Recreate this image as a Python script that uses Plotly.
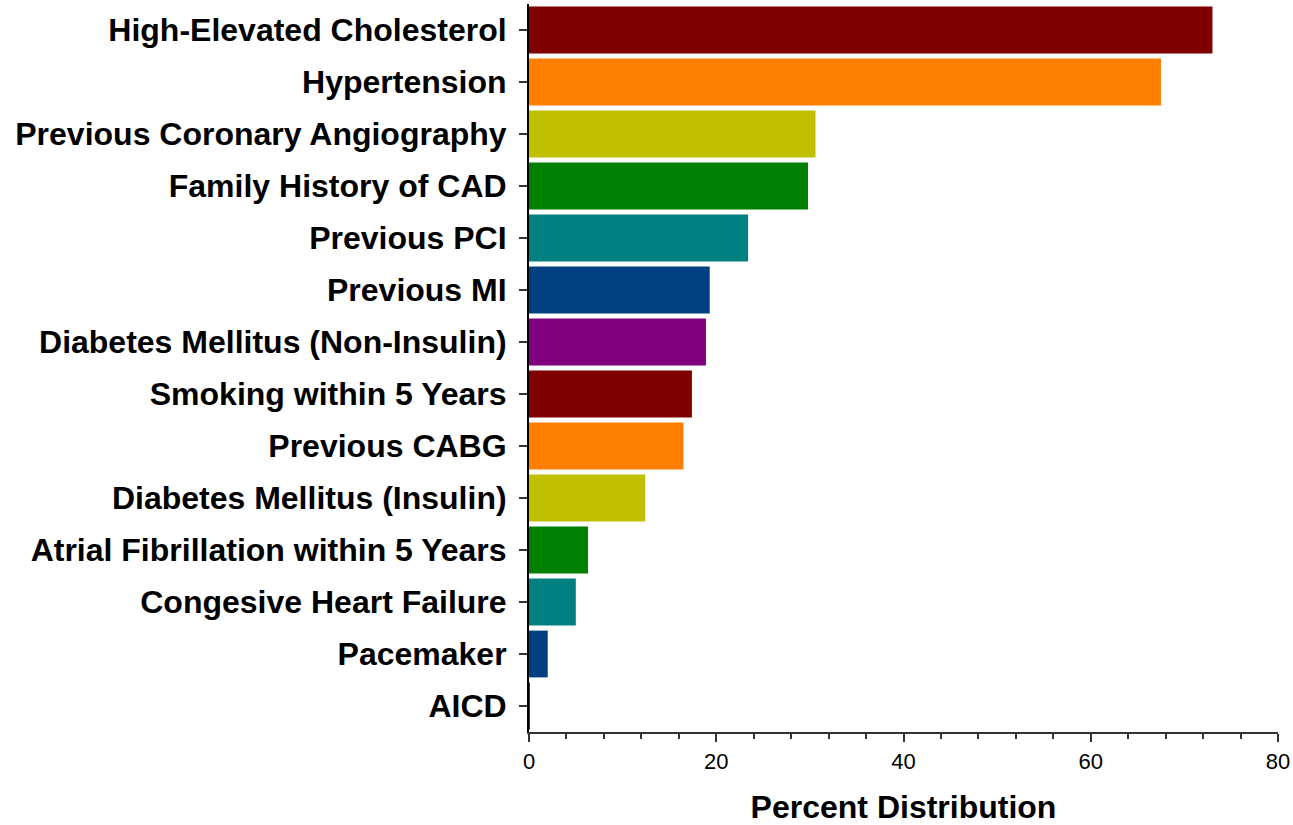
import plotly.graph_objects as go

# Risk factors, listed top to bottom
risk_factors = [
    "High-Elevated Cholesterol",
    "Hypertension",
    "Previous Coronary Angiography",
    "Family History of CAD",
    "Previous PCI",
    "Previous MI",
    "Diabetes Mellitus (Non-Insulin)",
    "Smoking within 5 Years",
    "Previous CABG",
    "Diabetes Mellitus (Insulin)",
    "Atrial Fibrillation within 5 Years",
    "Congesive Heart Failure",
    "Pacemaker",
    "AICD",
]
percent = [73.0, 67.5, 30.6, 29.8, 23.4, 19.3, 18.9, 17.4, 16.5, 12.4, 6.3, 5.0, 2.0, 0.1]
x_ticks = [0, 20, 40, 60, 80]

palette = ["#800000", "#FF8000", "#C0C000", "#008000", "#008080", "#004080", "#800080"]
bar_colors = [palette[i % len(palette)] for i in range(len(risk_factors))]

fig = go.Figure(
    go.Bar(
        x=percent,
        y=risk_factors,
        orientation="h",
        marker=dict(color=bar_colors, line=dict(width=0)),
        hoverinfo="x+y",
    )
)

fig.update_layout(
    width=1293,
    height=825,
    margin=dict(l=529, r=15, t=4, b=93),
    paper_bgcolor="white",
    plot_bgcolor="white",
    bargap=0.1,
    showlegend=False,
    font=dict(family="Liberation Sans, Arial, sans-serif", color="black"),
)

fig.update_yaxes(
    autorange="reversed",
    showline=True,
    linecolor="black",
    linewidth=2,
    ticks="outside",
    ticklen=8,
    tickwidth=2,
    tickcolor="#333333",
    ticklabelstandoff=6,
    tickfont=dict(size=32, family="Liberation Sans, Arial, sans-serif", weight="bold"),
    showgrid=False,
)

fig.update_xaxes(
    range=[0, 80],
    tickmode="array",
    tickvals=x_ticks,
    ticktext=[str(v) for v in x_ticks],
    showline=True,
    linecolor="#333333",
    linewidth=2,
    ticks="outside",
    ticklen=8,
    tickwidth=2,
    tickcolor="#333333",
    ticklabelstandoff=1,
    tickfont=dict(size=22, family="Liberation Sans, Arial, sans-serif", color="black"),
    minor=dict(dtick=4, ticks="outside", ticklen=5, tickwidth=2, tickcolor="#333333"),
    showgrid=False,
    zeroline=False,
    title=dict(
        text="Percent Distribution",
        font=dict(size=32, family="Liberation Sans, Arial, sans-serif", weight="bold"),
        standoff=25,
    ),
)

fig.write_html("out.html")
